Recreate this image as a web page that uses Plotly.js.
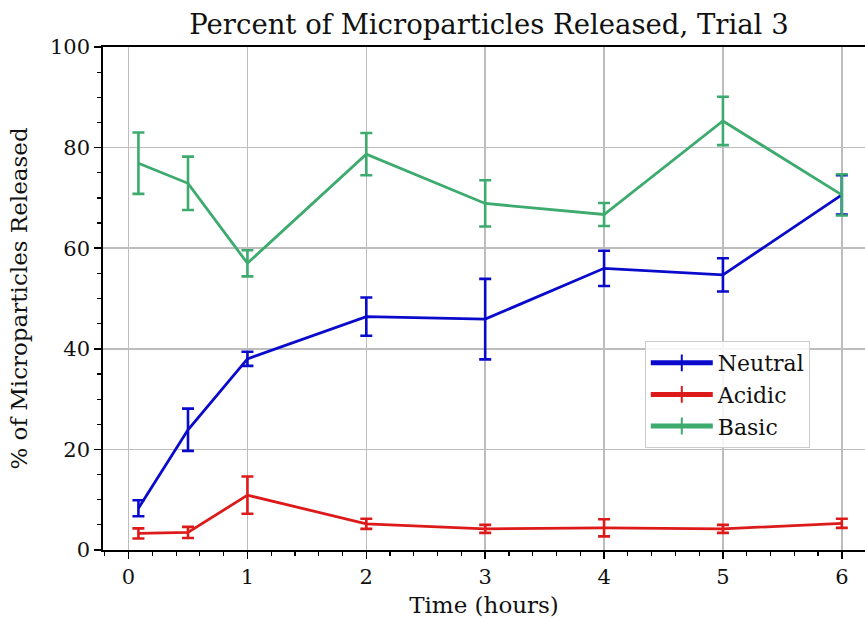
<!DOCTYPE html>
<html>
<head>
<meta charset="utf-8">
<script src="https://cdn.plot.ly/plotly-3.0.1.min.js"></script>
<style>
  html, body { margin: 0; padding: 0; background: #ffffff; }
  #chart { width: 865px; height: 620px; }
</style>
</head>
<body>
<div id="chart"></div>
<script>
// Sampling times (hours)
const times = [0.083, 0.5, 1, 2, 3, 4, 5, 6];

// Percent released per condition, with error values
const neutral    = [8.3, 23.9, 38.0, 46.4, 45.9, 56.0, 54.7, 70.6];
const neutralErr = [1.6, 4.2, 1.4, 3.8, 8.0, 3.5, 3.3, 3.9];

const acidic     = [3.3, 3.5, 10.9, 5.2, 4.2, 4.4, 4.2, 5.3];
const acidicErr  = [1.0, 1.1, 3.7, 1.0, 0.8, 1.7, 0.8, 0.9];

const basic      = [76.9, 72.9, 57.0, 78.7, 68.9, 66.7, 85.3, 70.6];
const basicErr   = [6.1, 5.3, 2.6, 4.2, 4.6, 2.3, 4.8, 4.1];

const seriesNames = ['Neutral', 'Acidic', 'Basic'];
const tickVals = [0, 1, 2, 3, 4, 5, 6];

const FONT = 'DejaVu Serif, serif';

function series(name, y, err, color) {
  return {
    type: 'scatter',
    mode: 'lines+markers',
    name: name,
    x: times,
    y: y,
    line: { color: color, width: 2.8 },
    // near-zero vertical tick: invisible on the plot, drawn at constant size as the legend's I-beam
    marker: { symbol: 'line-ns', size: 0.01, color: color, line: { color: color, width: 2.8 } },
    error_y: { type: 'data', array: err, visible: true, color: color, thickness: 2.6, width: 6 },
    hoverinfo: 'x+y+name'
  };
}

const data = [
  series(seriesNames[0], neutral, neutralErr, '#0a0acc'),
  series(seriesNames[1], acidic, acidicErr, '#dd1a1a'),
  series(seriesNames[2], basic, basicErr, '#3daa6e')
];

const layout = {
  width: 865,
  height: 620,
  margin: { l: 103, r: 0, t: 47, b: 70 },
  paper_bgcolor: '#ffffff',
  plot_bgcolor: '#ffffff',
  font: { family: FONT, color: '#111111', size: 21 },
  title: {
    text: 'Percent of Microparticles Released, Trial 3',
    font: { family: FONT, size: 27.5, color: '#111111' },
    xref: 'container', x: 0.5653, xanchor: 'center',
    yref: 'container', y: 0.96, yanchor: 'middle'
  },
  xaxis: {
    range: [-0.215, 6.195],
    tickvals: tickVals,
    ticktext: tickVals.map(String),
    ticks: 'outside', ticklen: 7, tickwidth: 1.5, tickcolor: '#000',
    showline: true, linecolor: '#000', linewidth: 1.8, mirror: true,
    showgrid: true, gridcolor: '#bdbdbd', gridwidth: 1.5,
    zeroline: false,
    tickfont: { family: FONT, size: 21, color: '#111' },
    minor: { dtick: 0.2, tick0: 0, ticks: 'outside', ticklen: 4, tickwidth: 1.2, tickcolor: '#000', showgrid: false },
    title: { text: 'Time (hours)', font: { family: FONT, size: 23, color: '#111' }, standoff: 9 }
  },
  yaxis: {
    range: [0, 100],
    dtick: 20, tick0: 0,
    ticks: 'outside', ticklen: 7, tickwidth: 1.5, tickcolor: '#000',
    showline: true, linecolor: '#000', linewidth: 1.8,
    showgrid: true, gridcolor: '#bdbdbd', gridwidth: 1.5,
    zeroline: false,
    tickfont: { family: FONT, size: 21, color: '#111' },
    minor: { dtick: 5, tick0: 0, ticks: 'outside', ticklen: 4, tickwidth: 1.2, tickcolor: '#000', showgrid: false },
    title: { text: '% of Microparticles Released', font: { family: FONT, size: 23, color: '#111' }, standoff: 16 }
  },
  legend: {
    x: 0.711, y: 0.4155, xanchor: 'left', yanchor: 'top',
    bgcolor: 'rgba(255,255,255,0.85)',
    bordercolor: '#cccccc', borderwidth: 1,
    font: { family: FONT, size: 22, color: '#111' },
    itemsizing: 'constant',
    itemwidth: 62
  },
  showlegend: true
};

Plotly.newPlot('chart', data, layout, { displayModeBar: false, staticPlot: true });
</script>
</body>
</html>
